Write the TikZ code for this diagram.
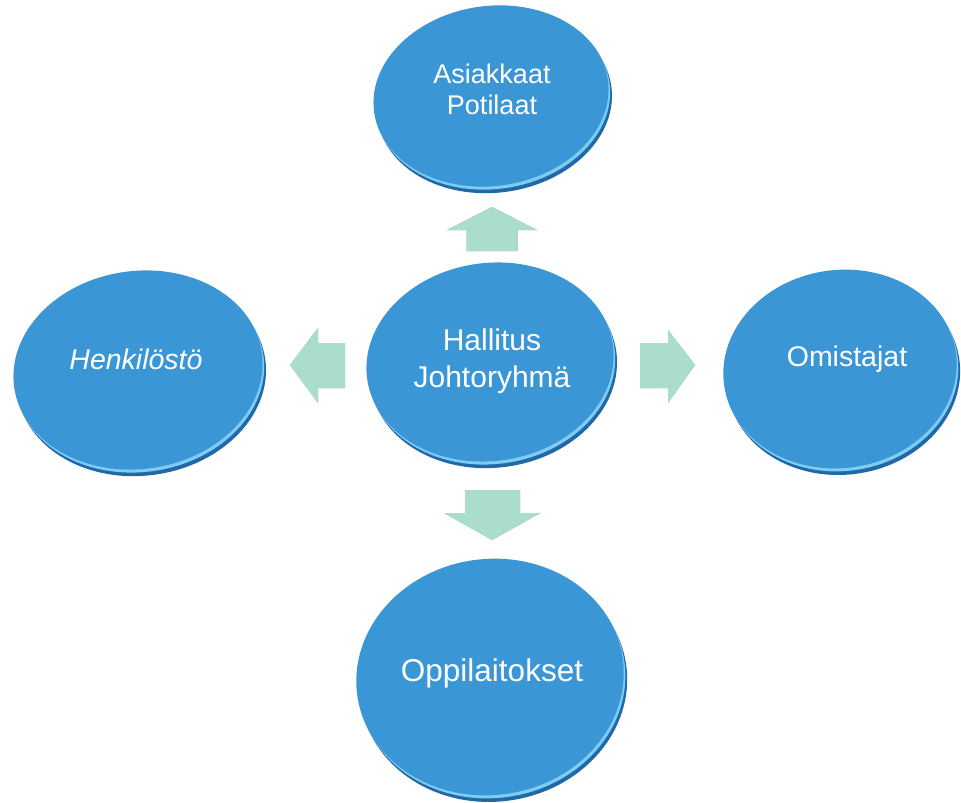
\documentclass[tikz,border=0pt]{standalone}
\usepackage{fontspec}
\setmainfont{Liberation Sans}
\definecolor{discface}{RGB}{59,150,214}
\definecolor{rimlight}{RGB}{125,205,242}
\definecolor{rimdark}{RGB}{32,104,168}
\definecolor{arrowface}{RGB}{170,221,202}
\definecolor{arrowdark}{RGB}{118,178,156}
\tikzset{
  lbl/.style={text=white, align=center, inner sep=0pt},
  arrowbevel/.style={fill=arrowdark},
  arrowbody/.style={fill=arrowface},
}
% #1 center, #2 x radius, #3 y radius
\newcommand\mydisc[3]{%
  \fill[rimdark, shift={#1}, rotate=8] (2.5,-7) ellipse [x radius=#2, y radius=#3];
  \fill[rimlight, shift={#1}, rotate=8] (1.2,-3.2) ellipse [x radius=#2, y radius=#3];
  \fill[discface, shift={#1}, rotate=8] (0,0) ellipse [x radius=#2, y radius=#3];
}
\begin{document}
\begin{tikzpicture}[x=1pt,y=1pt]
\useasboundingbox (0,0) rectangle (961,-803);
\fill[white] (0,0) rectangle (961,-803);

% discs
\mydisc{(491,-96)}{118}{90}
\mydisc{(490,-362)}{124}{99}
\mydisc{(138,-370)}{125}{99}
\mydisc{(840,-369)}{117}{99}
\mydisc{(490,-677)}{134}{118}

% labels
\node[lbl, font=\fontsize{27}{31}\selectfont] (top) at (492,-89) {Asiakkaat\\Potilaat};
\node[lbl, font=\fontsize{30}{37}\selectfont] (mid) at (492,-361) {Hallitus\\Johtoryhmä};
\node[lbl, font=\fontsize{28.5}{34}\selectfont\itshape] (left) at (136,-359) {Henkilöstö};
\node[lbl, font=\fontsize{28.5}{34}\selectfont] (right) at (847,-359) {Omistajat};
\node[lbl, font=\fontsize{31.5}{38}\selectfont] (bottom) at (492,-673) {Oppilaitokset};

% arrow anchor coordinates
\coordinate (au) at (492,-207);
\coordinate (ad) at (492,-540);
\coordinate (al) at (290,-365);
\coordinate (ar) at (695,-365);

% up arrow
\foreach \s/\st in {{(1.8,-1.8)}/arrowbevel,{(0,0)}/arrowbody}{
  \fill[\st, shift={\s}] (au) -- ++(45,-23) -- ++(-19.5,0) -- ++(0,-21) -- ++(-51,0) -- ++(0,21) -- ++(-19.5,0) -- cycle;
  \fill[\st, shift={\s}] (ad) -- ++(48.5,27) -- ++(-20.5,0) -- ++(0,23) -- ++(-55,0) -- ++(0,-23) -- ++(-21,0) -- cycle;
  \fill[\st, shift={\s}] (al) -- ++(28,37) -- ++(0,-15) -- ++(27,0) -- ++(0,-45) -- ++(-27,0) -- ++(0,-15) -- cycle;
  \fill[\st, shift={\s}] (ar) -- ++(-27,35) -- ++(0,-13) -- ++(-28,0) -- ++(0,-45) -- ++(28,0) -- ++(0,-15) -- cycle;
}
\end{tikzpicture}
\end{document}
